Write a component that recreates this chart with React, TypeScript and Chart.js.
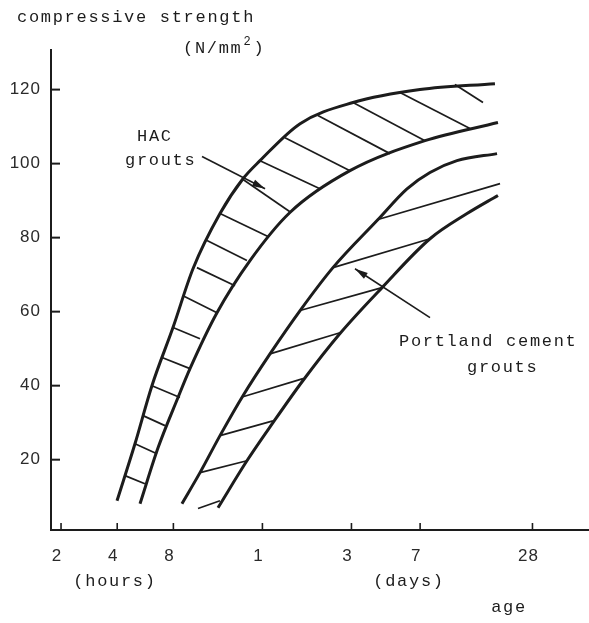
import { useEffect, useRef } from "react";
import { Chart, registerables } from "chart.js";

Chart.register(...registerables);

// Age axis is in hours on a log scale; strength in N/mm2.
const X_MIN = 1.767;
const X_MAX = 1350;
const Y_MIN = 1;
const Y_MAX = 130.7;

const xTickHours = [2, 4, 8, 24, 72, 168, 672];
const xTickLabels = ["2", "4", "8", "1", "3", "7", "28"];
const yTickValues = [20, 40, 60, 80, 100, 120];

// HAC grouts band
const hacUpperHours = [3.99, 4.98, 6.14, 7.96, 10.19, 14.22, 18.88, 23.3, 38.2, 73.4, 167.7, 423];
const hacUpperStrength = [8.9, 24.3, 40.0, 55.7, 71.6, 86.5, 95.9, 100.8, 110.8, 116.5, 120.0, 121.6];
const hacLowerHours = [5.3, 6.62, 8.47, 9.82, 13.7, 20.59, 33.7, 70.7, 178.4, 439];
const hacLowerStrength = [8.1, 23.2, 36.8, 44.6, 59.7, 73.8, 86.8, 98.1, 106.2, 111.1];

// Portland cement grouts band
const opcUpperHours = [8.89, 11.11, 14.22, 18.88, 26.35, 38.2, 57.3, 99.9, 142.9, 189.8, 264.8, 434];
const opcUpperStrength = [8.1, 16.5, 26.5, 37.3, 48.6, 60.3, 71.9, 84.9, 93.2, 97.6, 100.8, 102.7];
const opcLowerHours = [13.87, 19.83, 27.34, 39.6, 62.5, 105.0, 189.8, 299.7, 439];
const opcLowerStrength = [7.0, 19.7, 30.0, 41.4, 54.1, 66.5, 79.7, 86.5, 91.4];

// Hatch strokes across the bands: [hoursA, strengthA, hoursB, strengthB]
const hacHatch = [
  [4.4, 15.7, 5.63, 13.5],
  [4.98, 24.3, 6.53, 21.6],
  [5.5, 31.9, 7.21, 29.2],
  [6.14, 40.0, 8.68, 36.8],
  [6.95, 47.6, 9.82, 44.6],
  [7.96, 55.7, 11.11, 52.7],
  [9.01, 64.3, 13.7, 59.7],
  [10.7, 71.9, 17.11, 67.0],
  [12.11, 79.2, 19.83, 73.8],
  [14.22, 86.5, 25.7, 80.3],
  [18.65, 95.9, 34.15, 86.8],
  [23.3, 100.8, 48.8, 93.2],
  [31.7, 107.0, 70.7, 98.1],
  [47.6, 113.0, 115.8, 102.7],
  [73.4, 116.5, 178.4, 106.2],
  [131, 119.2, 310.8, 109.5],
  [258, 121.4, 365, 116.5],
];
const opcHatch = [
  [10.84, 6.8, 14.22, 8.9],
  [11.11, 16.5, 19.83, 19.7],
  [14.22, 26.5, 27.34, 30.5],
  [18.88, 37.0, 39.6, 41.9],
  [26.35, 48.6, 62.5, 54.3],
  [38.2, 60.3, 105.0, 66.5],
  [57.3, 71.9, 189.8, 79.7],
  [99.9, 84.9, 450.4, 94.6],
];

// Label arrows: [fromHours, fromStrength, tipHours, tipStrength]
const hacArrow = [11.39, 101.9, 24.8, 93.2];
const opcArrow = [189.8, 58.4, 75.2, 71.6];

const INK = "#1c1c1c";
const MONO = '"Liberation Mono", "DejaVu Sans Mono", monospace';
const SANS = '"Liberation Sans", Arial, sans-serif';

const toPoints = (xs: number[], ys: number[]) => xs.map((x, i) => ({ x, y: ys[i] }));

const curve = (label: string, xs: number[], ys: number[]) => ({
  label,
  data: toPoints(xs, ys),
  borderColor: INK,
  borderWidth: 3,
  pointRadius: 0,
  fill: false,
  cubicInterpolationMode: "monotone" as const,
});

const hatch = (seg: number[], i: number, name: string) => ({
  label: `${name}-${i}`,
  data: [
    { x: seg[0], y: seg[1] },
    { x: seg[2], y: seg[3] },
  ],
  borderColor: INK,
  borderWidth: 1.7,
  pointRadius: 0,
  fill: false,
  tension: 0,
});

const decor = {
  id: "decor",
  afterDraw(chart: any) {
    const { ctx, chartArea: area } = chart;
    const xs = chart.scales.x;
    const ys = chart.scales.y;
    ctx.save();
    ctx.strokeStyle = INK;
    ctx.fillStyle = INK;

    // inward tick marks
    ctx.lineWidth = 2;
    yTickValues.forEach((v) => {
      const py = ys.getPixelForValue(v);
      ctx.beginPath();
      ctx.moveTo(area.left, py);
      ctx.lineTo(area.left + 9, py);
      ctx.stroke();
    });
    ctx.lineWidth = 1.6;
    xTickHours.forEach((h) => {
      const px = xs.getPixelForValue(h);
      ctx.beginPath();
      ctx.moveTo(px, area.bottom);
      ctx.lineTo(px, area.bottom - 7);
      ctx.stroke();
    });

    // tick labels
    ctx.fillStyle = "#2a2a2a";
    ctx.font = `17px ${SANS}`;
    (ctx as any).letterSpacing = "1px";
    ctx.textAlign = "right";
    ctx.textBaseline = "middle";
    yTickValues.forEach((v) => ctx.fillText(String(v), area.left - 10, ys.getPixelForValue(v)));
    ctx.textAlign = "center";
    xTickHours.forEach((h, i) => ctx.fillText(xTickLabels[i], xs.getPixelForValue(h) - 4, area.bottom + 26));

    // typewriter captions
    ctx.fillStyle = INK;
    ctx.font = `17px ${MONO}`;
    (ctx as any).letterSpacing = "1.7px";
    ctx.textBaseline = "alphabetic";
    ctx.textAlign = "left";
    ctx.fillText("compressive strength", 17, 22);
    ctx.fillText("(N/mm", 183, 53);
    const w = ctx.measureText("(N/mm").width;
    ctx.font = `12px ${MONO}`;
    (ctx as any).letterSpacing = "0px";
    ctx.fillText("2", 183 + w + 1, 45);
    ctx.font = `17px ${MONO}`;
    (ctx as any).letterSpacing = "1.7px";
    ctx.fillText(")", 183 + w + 11, 53);

    ctx.fillText("HAC", 137, 141);
    ctx.fillText("grouts", 125, 165);
    ctx.fillText("Portland cement", 399, 346);
    ctx.fillText("grouts", 467, 372);

    ctx.textAlign = "center";
    ctx.fillText("(hours)", 115, 586);
    ctx.fillText("(days)", 409, 586);
    ctx.fillText("age", 509, 612);

    // arrows pointing at the bands
    const drawArrow = (a: number[]) => {
      const x1 = xs.getPixelForValue(a[0]);
      const y1 = ys.getPixelForValue(a[1]);
      const x2 = xs.getPixelForValue(a[2]);
      const y2 = ys.getPixelForValue(a[3]);
      const ang = Math.atan2(y2 - y1, x2 - x1);
      ctx.lineWidth = 1.6;
      ctx.beginPath();
      ctx.moveTo(x1, y1);
      ctx.lineTo(x2, y2);
      ctx.stroke();
      const len = 13;
      const half = 3.5;
      const bx = x2 - len * Math.cos(ang);
      const by = y2 - len * Math.sin(ang);
      ctx.beginPath();
      ctx.moveTo(x2, y2);
      ctx.lineTo(bx + half * Math.sin(ang), by - half * Math.cos(ang));
      ctx.lineTo(bx - half * Math.sin(ang), by + half * Math.cos(ang));
      ctx.closePath();
      ctx.fill();
    };
    drawArrow(hacArrow);
    drawArrow(opcArrow);
    ctx.restore();
  },
};

export default function App() {
  const ref = useRef<HTMLCanvasElement>(null);

  useEffect(() => {
    const canvas = ref.current;
    if (!canvas) return;
    const datasets: any[] = [
      curve("HAC upper", hacUpperHours, hacUpperStrength),
      curve("HAC lower", hacLowerHours, hacLowerStrength),
      curve("Portland upper", opcUpperHours, opcUpperStrength),
      curve("Portland lower", opcLowerHours, opcLowerStrength),
      ...hacHatch.map((s, i) => hatch(s, i, "hac")),
      ...opcHatch.map((s, i) => hatch(s, i, "opc")),
    ];
    const chart = new Chart(canvas, {
      type: "line",
      data: { datasets },
      options: {
        responsive: false,
        animation: false,
        devicePixelRatio: 1,
        layout: { padding: { left: 51, right: 0, top: 50, bottom: 93 } },
        plugins: {
          legend: { display: false },
          tooltip: { enabled: false },
          title: { display: false },
        },
        scales: {
          x: {
            type: "logarithmic",
            min: X_MIN,
            max: X_MAX,
            grid: { display: false },
            ticks: { display: false },
            border: { display: true, color: INK, width: 2 },
            afterFit: (s: any) => {
              s.height = 0;
            },
          },
          y: {
            type: "linear",
            min: Y_MIN,
            max: Y_MAX,
            grid: { display: false },
            ticks: { display: false },
            border: { display: true, color: INK, width: 2 },
            afterFit: (s: any) => {
              s.width = 0;
            },
          },
        },
      },
      plugins: [decor],
    });
    return () => chart.destroy();
  }, []);

  return (
    <div style={{ position: "absolute", left: 0, top: 0, width: 589, height: 623, background: "#fff" }}>
      <canvas ref={ref} width={589} height={623} style={{ display: "block", width: 589, height: 623 }} />
    </div>
  );
}
